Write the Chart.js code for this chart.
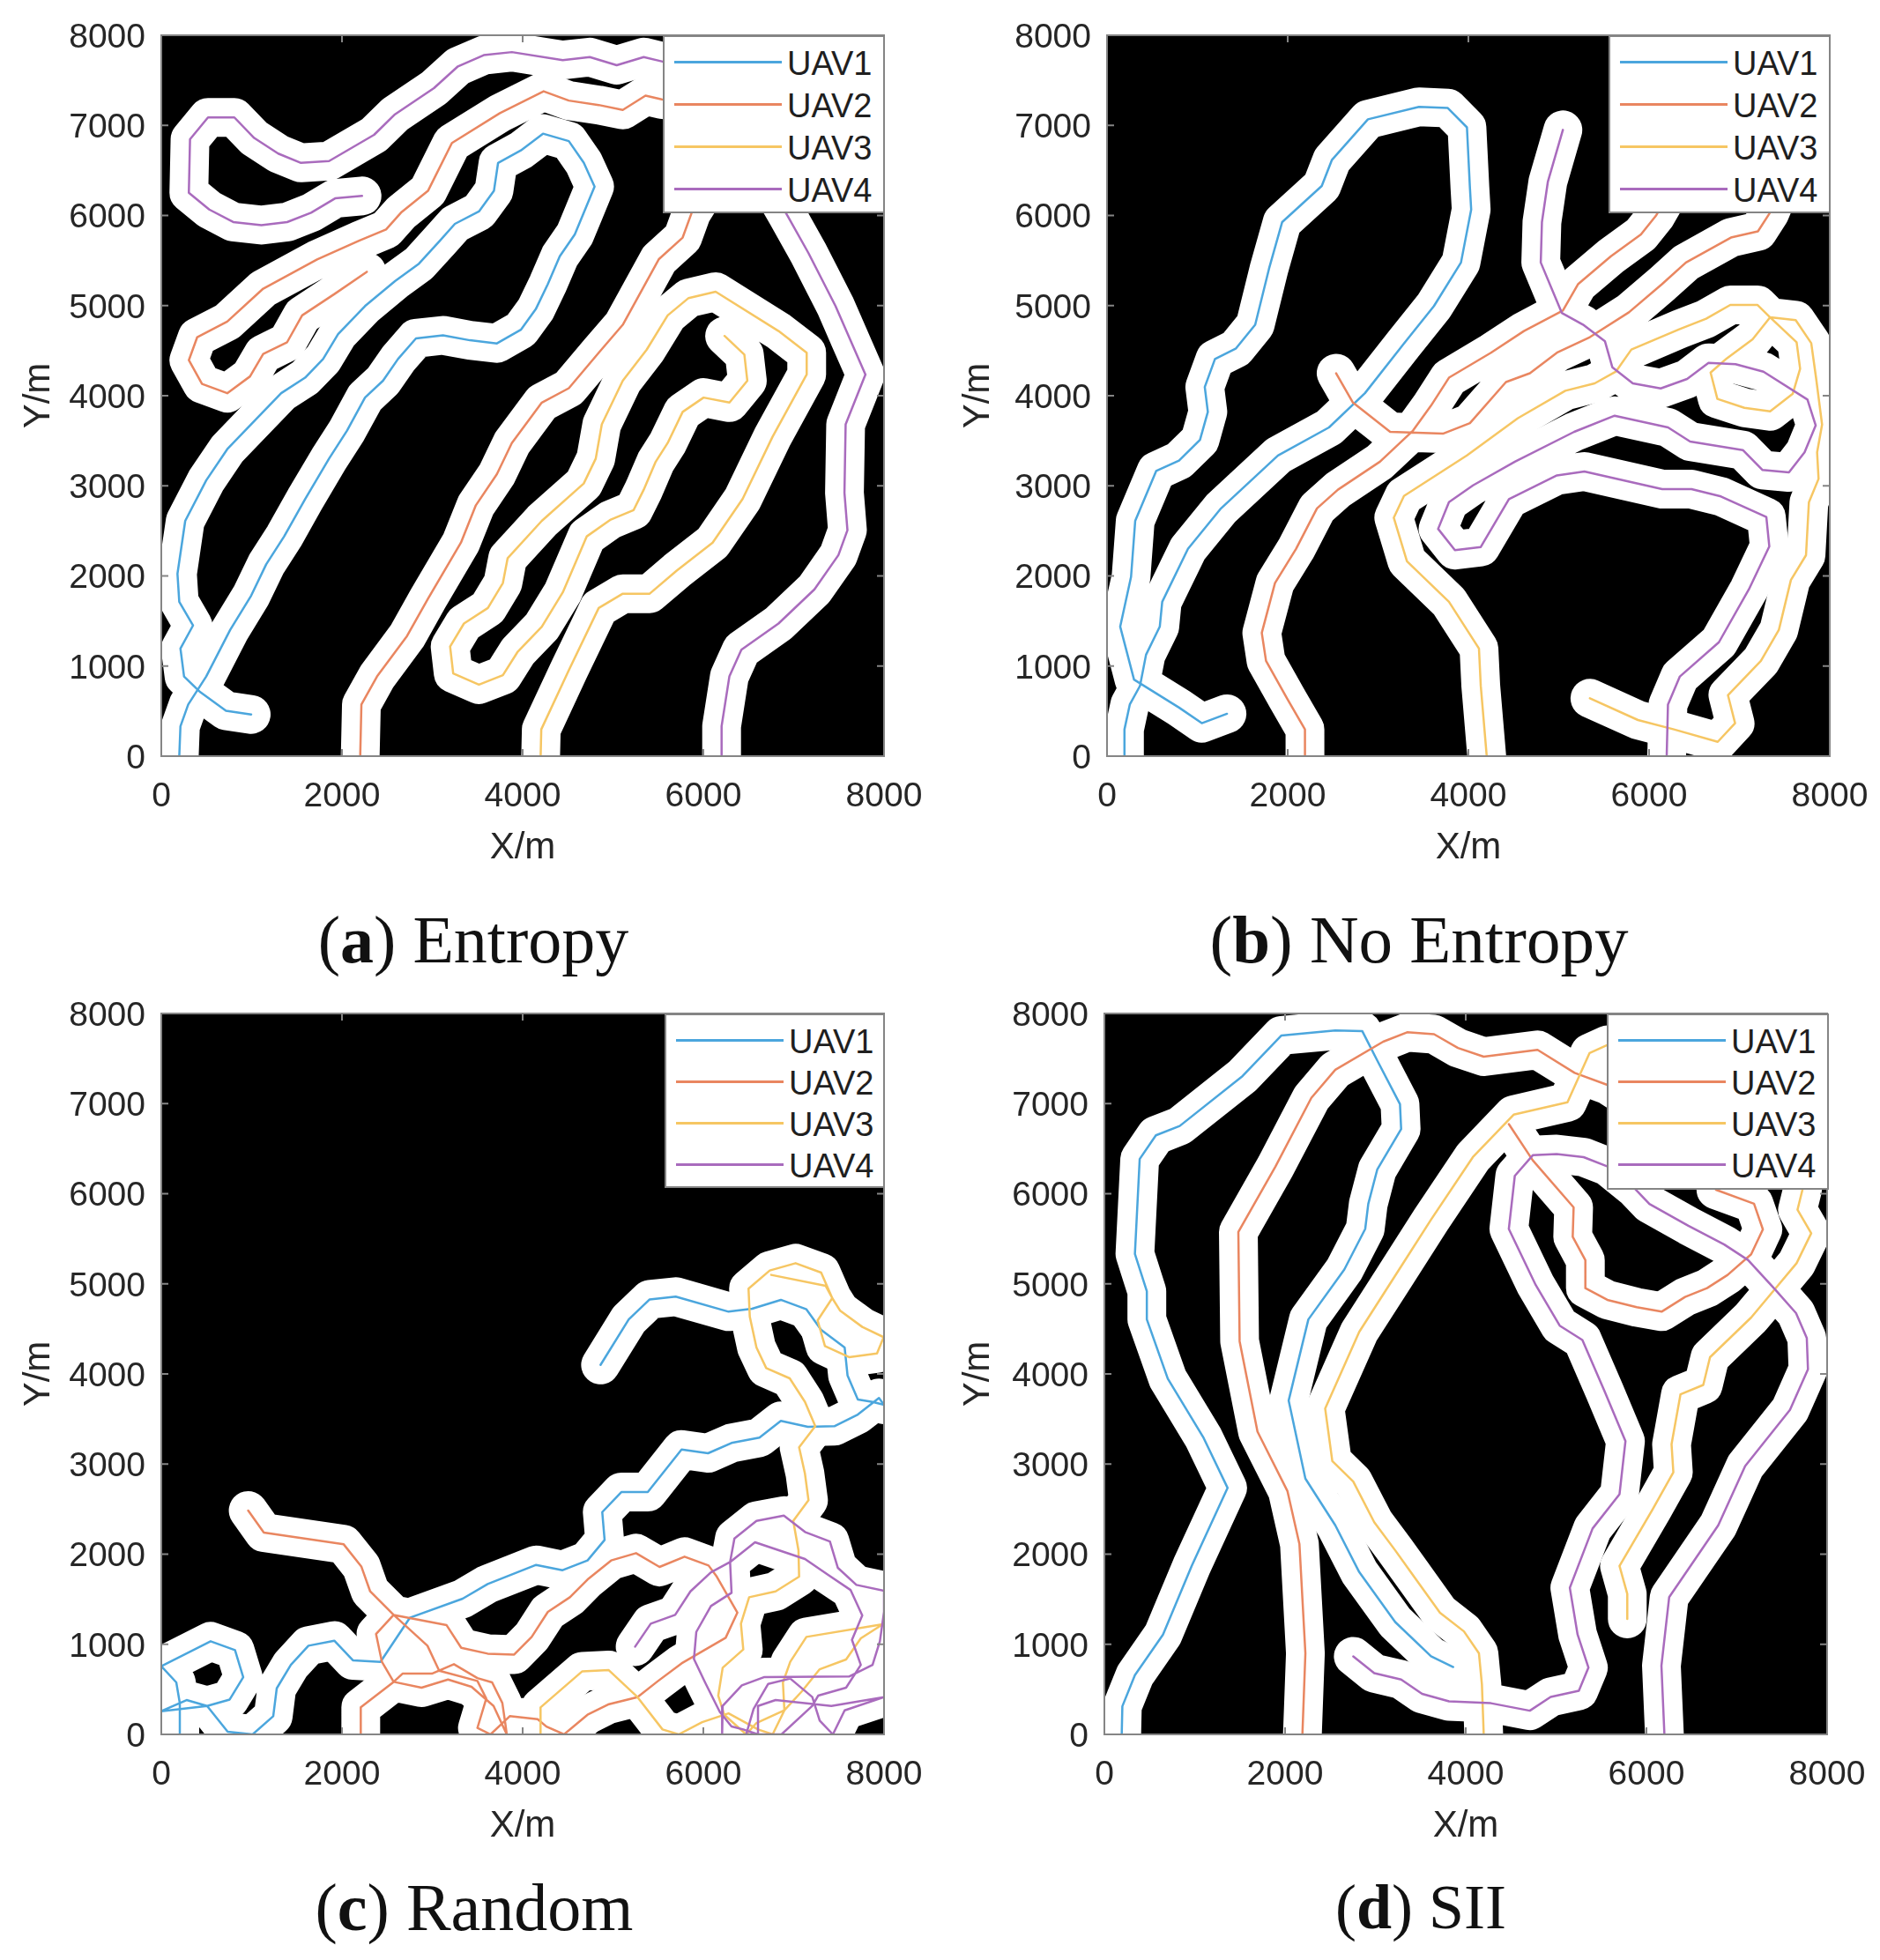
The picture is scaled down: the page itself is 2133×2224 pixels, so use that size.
<!DOCTYPE html>
<html>
<head>
<meta charset="utf-8">
<title>UAV paths</title>
<script src="https://cdn.jsdelivr.net/npm/chart.js@4"></script>
<style>
    html, body { margin: 0; padding: 0; background: #fff; }
    #page { position: relative; width: 2133px; height: 2224px; overflow: hidden; }
    canvas { position: absolute; }
    .legend { position: absolute; box-sizing: border-box; background: #fff; border: 2px solid #858585; }
    .legend div { position: absolute; left: 0; right: 0; height: 48px; }
    .legend i { position: absolute; left: 11px; top: 25px; width: 122px; height: 3px; }
    .legend span { position: absolute; left: 139px; top: 7px; font: 38px/42px "Liberation Sans", sans-serif; color: #1f1f1f; }
    .caption { position: absolute; width: 900px; text-align: center; font-family: "Liberation Serif", serif; line-height: 84px; color: #111; }
</style>
</head>
<body>
<div id="page"></div>
<script>
'use strict';

var xTicks = [0, 2000, 4000, 6000, 8000];
var yTicks = [0, 1000, 2000, 3000, 4000, 5000, 6000, 7000, 8000];
var seriesNames = ['UAV1', 'UAV2', 'UAV3', 'UAV4'];

// (a) Entropy
var entropyUav1 = [[995,463],[716,504],[431,711],[252,884],[212,1195],[351,1450],[199,1713],[179,2024],[265,2611],[497,3060],[730,3406],[1061,3751],[1327,4028],[1592,4200],[1791,4407],[1957,4684],[2255,4995],[2587,5271],[2852,5465],[3084,5720],[3250,5907],[3516,6045],[3682,6273],[3728,6584],[3980,6722],[4225,6908],[4511,6825],[4677,6584],[4796,6321],[4677,6031],[4577,5789],[4411,5547],[4278,5237],[4145,4960],[3980,4732],[3715,4580],[3416,4615],[3118,4670],[2819,4636],[2620,4407],[2454,4166],[2255,3979],[2056,3613],[1857,3302],[1592,2853],[1360,2439],[1161,2128],[995,1782],[763,1402],[497,884],[298,573],[212,332],[199,0]];
var entropyUav2 = [[2202,0],[2215,573],[2388,884],[2720,1333],[2952,1748],[3317,2370],[3482,2784],[3715,3130],[3880,3475],[4212,3924],[4511,4083],[4842,4477],[5108,4787],[5506,5513],[5771,5755],[5871,6031],[6100,6400],[6400,6700],[5900,7250],[5539,7288],[5360,7330],[5108,7171],[4842,7226],[4511,7275],[4232,7378],[3748,7136],[3217,6805],[2952,6273],[2653,6031],[2488,5845],[2189,5720],[1725,5513],[1128,5188],[730,4822],[398,4650],[305,4394],[451,4131],[730,4028],[982,4214],[1128,4463],[1393,4594],[1559,4891],[1924,5133],[2275,5375]];
var entropyUav3 = [[4199,0],[4206,297],[4511,953],[4842,1644],[5108,1803],[5406,1803],[5705,2059],[6103,2370],[6434,2853],[6766,3544],[7144,4235],[7144,4477],[6832,4718],[6136,5154],[5837,5084],[5605,4891],[5373,4511],[5108,4166],[4876,3682],[4809,3302],[4676,3026],[4212,2611],[3834,2197],[3781,1921],[3615,1644],[3350,1472],[3197,1216],[3231,919],[3516,794],[3781,898],[3947,1161],[4212,1437],[4444,1817],[4710,2439],[4975,2625],[5227,2729],[5340,2957],[5473,3268],[5605,3475],[5771,3820],[6003,3979],[6289,3924],[6487,4166],[6454,4456],[6235,4663]];
var entropyUav4 = [[6202,0],[6202,332],[6288,884],[6421,1181],[6832,1472],[7230,1851],[7495,2231],[7595,2508],[7562,2922],[7575,3682],[7794,4235],[7628,4615],[7463,4995],[7164,5582],[6932,5997],[6700,6400],[6500,6800],[5900,7600],[5539,7710],[5340,7758],[5041,7668],[4743,7758],[4444,7724],[3881,7813],[3569,7779],[3284,7655],[3018,7413],[2587,7123],[2355,6895],[1857,6604],[1546,6584],[1294,6687],[1028,6860],[809,7088],[517,7088],[318,6846],[305,6252],[531,6066],[796,5927],[1108,5893],[1393,5927],[1658,6031],[1924,6190],[2222,6217]];

// (b) No Entropy
var noEntropyUav1 = [[1328,470],[1049,366],[797,539],[299,850],[146,1437],[266,1990],[312,2611],[544,3164],[797,3281],[1029,3509],[1116,3820],[1082,4097],[1195,4407],[1428,4525],[1640,4787],[1793,5409],[1939,5927],[2377,6328],[2490,6618],[2888,7067],[3453,7206],[3772,7192],[3984,6978],[4017,6307],[4031,6066],[3918,5478],[3619,4995],[3287,4580],[2855,4028],[2457,3648],[1892,3337],[1262,2750],[896,2300],[611,1713],[584,1437],[432,1126],[365,780],[252,573],[193,297],[193,0]];
var noEntropyUav2 = [[2536,4249],[2722,3924],[3134,3599],[3718,3579],[4017,3696],[4416,4152],[4681,4249],[4980,4477],[5345,4650],[5777,4925],[6142,5237],[6408,5478],[6906,5755],[7205,5824],[7338,6031],[7450,6300],[6250,6300],[6076,5997],[5910,5789],[5578,5547],[5213,5237],[5046,4946],[4615,4718],[4250,4477],[3785,4200],[3586,3889],[3387,3613],[3021,3268],[2556,2957],[2324,2750],[2092,2300],[1859,1921],[1713,1368],[1760,1057],[1992,642],[2191,297],[2191,0]];
var noEntropyUav3 = [[5345,642],[5877,401],[6275,297],[6760,159],[6952,366],[6873,677],[7238,1057],[7437,1402],[7570,1955],[7737,2230],[7769,2816],[7876,3077],[7860,3371],[7915,3680],[7850,4186],[7795,4583],[7623,4838],[7340,4870],[7146,4626],[6860,4414],[6681,4257],[6756,3964],[7055,3866],[7340,3827],[7591,4023],[7672,4300],[7633,4593],[7340,4870],[7201,5007],[6899,5007],[6632,4854],[6340,4740],[5804,4512],[5632,4267],[5398,4137],[5073,4055],[4548,3751],[3984,3337],[3287,2888],[3174,2646],[3320,2162],[3785,1713],[4117,1195],[4137,781],[4203,0]];
var noEntropyUav4 = [[5046,6950],[4880,6376],[4814,5927],[4801,5478],[5034,4919],[5268,4789],[5512,4603],[5593,4316],[5820,4137],[6129,4081],[6421,4186],[6658,4365],[6957,4349],[7266,4267],[7753,3957],[7844,3670],[7721,3371],[7548,3149],[7256,3175],[7038,3397],[6454,3491],[6210,3648],[5619,3778],[5171,3599],[4515,3268],[4051,3005],[3785,2819],[3665,2522],[3851,2287],[4137,2321],[4449,2853],[4980,3116],[5284,3159],[6145,2963],[6470,2963],[6795,2882],[7298,2653],[7331,2327],[7105,1851],[6773,1264],[6341,884],[6209,573],[6195,0]];

// (c) Random
var randomUav1 = [[205,0],[205,348],[166,577],[0,756],[546,1033],[816,935],[907,635],[757,387],[507,316],[0,257],[280,381],[507,316],[735,29],[1011,0],[1239,202],[1278,511],[1434,772],[1629,984],[1915,1040],[2123,821],[2426,805],[2751,1294],[3336,1506],[3613,1669],[4149,1881],[4442,1822],[4718,1930],[4907,2158],[4881,2467],[5092,2689],[5385,2689],[5759,3162],[6052,3120],[6312,3234],[6621,3293],[6858,3479],[7157,3413],[7450,3420],[7710,3550],[7944,3733],[8000,3658],[7873,3690],[7710,3717],[7596,3984],[7564,4294],[7304,4489],[7141,4717],[6858,4822],[6540,4724],[6279,4691],[5694,4858],[5406,4827],[5174,4605],[4862,4100]];
var randomUav2 = [[962,2484],[1135,2239],[2019,2109],[2214,1864],[2312,1587],[2572,1326],[2946,984],[3076,707],[3499,593],[3597,397],[3499,71],[3645,0],[3857,202],[4166,169],[4263,87],[4458,0],[4718,218],[4946,332],[5271,414],[5499,593],[5759,788],[6247,1072],[6377,1352],[6149,1750],[6058,1874],[5792,1972],[5515,1858],[5255,2011],[4979,1930],[4718,1718],[4523,1522],[4279,1359],[4100,1082],[3906,886],[3613,896],[3320,961],[3158,1212],[2572,1326],[2377,1114],[2442,805],[2572,583],[2881,518],[3174,609],[3434,528],[3678,316],[3824,0],[3808,120],[3775,348],[3662,577],[3499,625],[3239,779],[2995,674],[2670,674],[2572,583],[2208,300],[2208,0]];
var randomUav3 = [[4198,0],[4198,300],[4660,700],[4953,713],[5271,414],[5548,55],[5727,0],[5987,136],[6279,234],[6605,55],[6767,0],[6897,267],[6881,577],[6962,805],[7141,1082],[7987,1222],[7743,1066],[7580,831],[7288,723],[7092,479],[6897,267],[6588,127],[6474,0],[6231,218],[6165,430],[6214,740],[6442,942],[6416,1229],[6507,1522],[6800,1587],[7060,1750],[7053,2044],[6995,2370],[7164,2598],[7125,2892],[7060,3185],[7239,3420],[7125,3690],[6956,3951],[6696,4065],[6588,4294],[6514,4636],[6500,4946],[6735,5148],[7021,5229],[7304,5125],[7427,4841],[7515,4701],[7759,4522],[7996,4408],[7922,4228],[7613,4186],[7346,4310],[7265,4594],[7427,4841],[7353,4978],[6751,5099]];
var randomUav4 = [[5245,974],[5418,1229],[5688,1326],[5857,1587],[6084,1799],[6296,1913],[6572,2132],[7125,1946],[7385,1767],[7629,1603],[7759,1320],[7645,1049],[7743,772],[7580,518],[7271,430],[7206,316],[6865,0],[6767,0],[6474,0],[6556,283],[6718,560],[6962,620],[7206,414],[7288,153],[7434,0],[7564,267],[8000,414],[7417,316],[6800,381],[6605,316],[6605,0],[6442,55],[6312,88],[6182,250],[6019,577],[5896,837],[5922,1137],[6084,1424],[6312,1571],[6296,1913],[6344,2174],[6588,2370],[6891,2428],[7125,2246],[7401,2141],[7489,1848],[7694,1659],[8000,1594],[8000,1359],[7954,1033],[7873,772],[7613,642],[6670,635],[6426,544],[6214,316],[6208,0]];

// (d) SII
var siiUav1 = [[192,0],[199,312],[338,658],[649,1108],[967,1870],[1364,2735],[1099,3289],[702,3947],[470,4605],[470,4917],[338,5332],[391,6385],[570,6648],[834,6752],[1530,7306],[1960,7756],[2556,7812],[2854,7805],[3020,7479],[3272,6994],[3285,6717],[3020,6267],[2921,5886],[2887,5609],[2656,5159],[2258,4605],[2040,3705],[2225,2839],[2556,2320],[2821,1801],[3219,1247],[3616,866],[3861,748]];
var siiUav2 = [[2192,0],[2225,900],[2159,2112],[2026,2701],[1695,3359],[1497,4363],[1483,5575],[1894,6302],[2291,7064],[2556,7375],[3086,7687],[3351,7791],[3649,7770],[3914,7618],[4199,7521],[4795,7597],[5205,7341],[5567,7208],[6200,6800],[6769,6300],[6769,6044],[7191,5888],[7289,5604],[7159,5327],[6899,5099],[6671,4952],[6428,4854],[6168,4691],[5892,4740],[5567,4822],[5324,4952],[5324,5262],[5184,5522],[5194,5848],[4742,6371],[4477,6773]];
var siiUav3 = [[4199,0],[4179,554],[4146,900],[3980,1143],[3715,1350],[3417,1766],[3219,2043],[2987,2355],[2755,2805],[2523,3033],[2444,3615],[2821,4467],[3219,5090],[3616,5713],[4079,6406],[4530,6877],[5126,7015],[5371,7562],[5570,7652],[6300,7300],[7727,6500],[7727,6044],[7672,5822],[7824,5561],[7662,5229],[7418,4936],[7159,4626],[6704,4186],[6629,3878],[6377,3774],[6278,3220],[6298,2909],[6066,2493],[5702,1870],[5788,1558],[5788,1281]];
var siiUav4 = [[6199,0],[6166,762],[6252,1524],[6795,2320],[7093,2978],[7589,3601],[7788,4051],[7775,4398],[7656,4675],[7424,4938],[7126,5263],[6861,5436],[6464,5644],[6033,5886],[5868,6060],[5570,6302],[5305,6406],[5007,6440],[4742,6427],[4543,6198],[4477,5609],[4775,4986],[5040,4536],[5291,4377],[5536,3809],[5768,3255],[5702,2666],[5404,2285],[5152,1627],[5238,1108],[5358,741],[5252,485],[4940,415],[4709,263],[4278,346],[3815,367],[3517,450],[3285,609],[2987,679],[2755,866]];

var SERIES_COLORS = ['#4ba6dd', '#e98660', '#f6c663', '#a96bbd'];
var TEXT_COLOR = '#262626';
var FRAME_COLOR = '#858585';
var BAND_WIDTH = 44;
var CANVAS_WIDTH = 1080;
var CANVAS_HEIGHT = 1000;
var PLOT_SIZE = 820;
var PLOT_TOP = 40;
var PLOT_BOTTOM_SPACE = 142;

var panels = [
    {id: 'a', name: 'Entropy', paths: [entropyUav1, entropyUav2, entropyUav3, entropyUav4],
        left: 0, top: 0, plotLeft: 183, legend: [752, 40, 252, 202], legendRow: 48, captionX: 537, captionY: 1024, captionSize: 76},
    {id: 'b', name: 'No Entropy', paths: [noEntropyUav1, noEntropyUav2, noEntropyUav3, noEntropyUav4],
        left: 1066, top: 0, plotLeft: 190, legend: [1825, 40, 252, 202], legendRow: 48, captionX: 1610, captionY: 1024, captionSize: 77},
    {id: 'c', name: 'Random', paths: [randomUav1, randomUav2, randomUav3, randomUav4],
        left: 0, top: 1110, plotLeft: 183, legend: [754, 1150, 250, 198], legendRow: 47, captionX: 538, captionY: 2122, captionSize: 76},
    {id: 'd', name: 'SII', paths: [siiUav1, siiUav2, siiUav3, siiUav4],
        left: 1066, top: 1110, plotLeft: 187, legend: [1823, 1150, 252, 200], legendRow: 47, captionX: 1612, captionY: 2122, captionSize: 72}
];

/**
 * Black plot background, grey frame and inward tick marks.
 */
var framePlugin = {
    id: 'frame',
    beforeDatasetsDraw: function(chart) {
        var area = chart.chartArea;
        chart.ctx.save();
        chart.ctx.fillStyle = '#000';
        chart.ctx.fillRect(area.left, area.top, area.width, area.height);
        chart.ctx.restore();
    },
    afterDatasetsDraw: function(chart) {
        var ctx = chart.ctx;
        var area = chart.chartArea;
        ctx.save();
        ctx.strokeStyle = FRAME_COLOR;
        ctx.lineWidth = 2;
        ctx.strokeRect(area.left, area.top, area.width, area.height);
        ctx.beginPath();
        xTicks.forEach(function(value) {
            var x = chart.scales.x.getPixelForValue(value);
            ctx.moveTo(x, area.bottom);
            ctx.lineTo(x, area.bottom - 8);
            ctx.moveTo(x, area.top);
            ctx.lineTo(x, area.top + 8);
        });
        yTicks.forEach(function(value) {
            var y = chart.scales.y.getPixelForValue(value);
            ctx.moveTo(area.left, y);
            ctx.lineTo(area.left + 8, y);
            ctx.moveTo(area.right, y);
            ctx.lineTo(area.right - 8, y);
        });
        ctx.stroke();
        ctx.restore();
    }
};

/**
 * Convert a path to the point objects of a scatter dataset.
 * @param {Array} path [x, y] pairs
 * @returns {Array}
 */
function toPoints(path) {
    return path.map(function(pair) {
        return {x: pair[0], y: pair[1]};
    });
}

/**
 * Build the four white coverage bands and the four coloured paths.
 * @param {Array} paths paths of one panel
 * @returns {Array}
 */
function buildDatasets(paths) {
    var datasets = [];
    paths.forEach(function(path, index) {
        var base = {
            data: toPoints(path),
            showLine: true,
            pointRadius: 0,
            clip: 0,
            borderCapStyle: 'round',
            borderJoinStyle: 'round'
        };
        datasets.push(Object.assign({}, base, {
            label: seriesNames[index],
            borderColor: SERIES_COLORS[index],
            borderWidth: 2.5,
            order: 4 - index
        }));
        datasets.push(Object.assign({}, base, {
            label: seriesNames[index] + ' coverage',
            borderColor: '#fff',
            borderWidth: BAND_WIDTH,
            order: 10
        }));
    });
    return datasets;
}

function buildAxis(title, ticks, fit, tickOptions, titlePadding) {
    return {
        type: 'linear',
        min: 0,
        max: 8000,
        grid: {display: false},
        border: {display: false},
        afterBuildTicks: function(axis) {
            axis.ticks = ticks.map(function(value) {
                return {value: value};
            });
        },
        afterFit: fit,
        ticks: Object.assign({
            maxRotation: 0,
            color: TEXT_COLOR,
            font: {family: '"Liberation Sans"', size: 39},
            callback: function(value) {
                return String(value);
            }
        }, tickOptions),
        title: {
            display: true,
            text: title,
            color: TEXT_COLOR,
            padding: titlePadding,
            font: {family: '"Liberation Sans"', size: 42}
        }
    };
}

function addLegend(page, panel) {
    var box = panel.legend;
    var legend = document.createElement('div');
    legend.className = 'legend';
    legend.style.cssText = 'left:' + box[0] + 'px;top:' + box[1] + 'px;width:' + box[2] + 'px;height:' + box[3] + 'px';
    seriesNames.forEach(function(name, index) {
        var row = document.createElement('div');
        var line = document.createElement('i');
        var label = document.createElement('span');
        row.style.top = (2 + index * panel.legendRow) + 'px';
        line.style.background = SERIES_COLORS[index];
        label.textContent = name;
        row.appendChild(line);
        row.appendChild(label);
        legend.appendChild(row);
    });
    page.appendChild(legend);
}

function addCaption(page, panel) {
    var caption = document.createElement('div');
    var letter = document.createElement('b');
    caption.className = 'caption';
    caption.style.left = (panel.captionX - 450) + 'px';
    caption.style.top = panel.captionY + 'px';
    caption.style.fontSize = panel.captionSize + 'px';
    letter.textContent = panel.id;
    caption.appendChild(document.createTextNode('('));
    caption.appendChild(letter);
    caption.appendChild(document.createTextNode(') ' + panel.name));
    page.appendChild(caption);
}

function drawPanel(page, panel) {
    var canvas = document.createElement('canvas');
    canvas.width = CANVAS_WIDTH;
    canvas.height = CANVAS_HEIGHT;
    canvas.style.left = panel.left + 'px';
    canvas.style.top = panel.top + 'px';
    page.appendChild(canvas);

    new Chart(canvas, {
        type: 'scatter',
        data: {datasets: buildDatasets(panel.paths)},
        plugins: [framePlugin],
        options: {
            responsive: false,
            animation: false,
            layout: {padding: {top: PLOT_TOP, right: CANVAS_WIDTH - panel.plotLeft - PLOT_SIZE}},
            plugins: {legend: {display: false}, tooltip: {enabled: false}},
            scales: {
                x: buildAxis('X/m', xTicks, function(axis) {
                    axis.height = PLOT_BOTTOM_SPACE;
                }, {padding: 15}, {top: 0, bottom: 12}),
                y: buildAxis('Y/m', yTicks, function(axis) {
                    axis.width = panel.plotLeft;
                }, {padding: 10, labelOffset: 3}, {top: 19, bottom: 0})
            }
        }
    });

    addLegend(page, panel);
    addCaption(page, panel);
}

var page = document.getElementById('page');
panels.forEach(function(panel) {
    drawPanel(page, panel);
});
</script>
</body>
</html>
